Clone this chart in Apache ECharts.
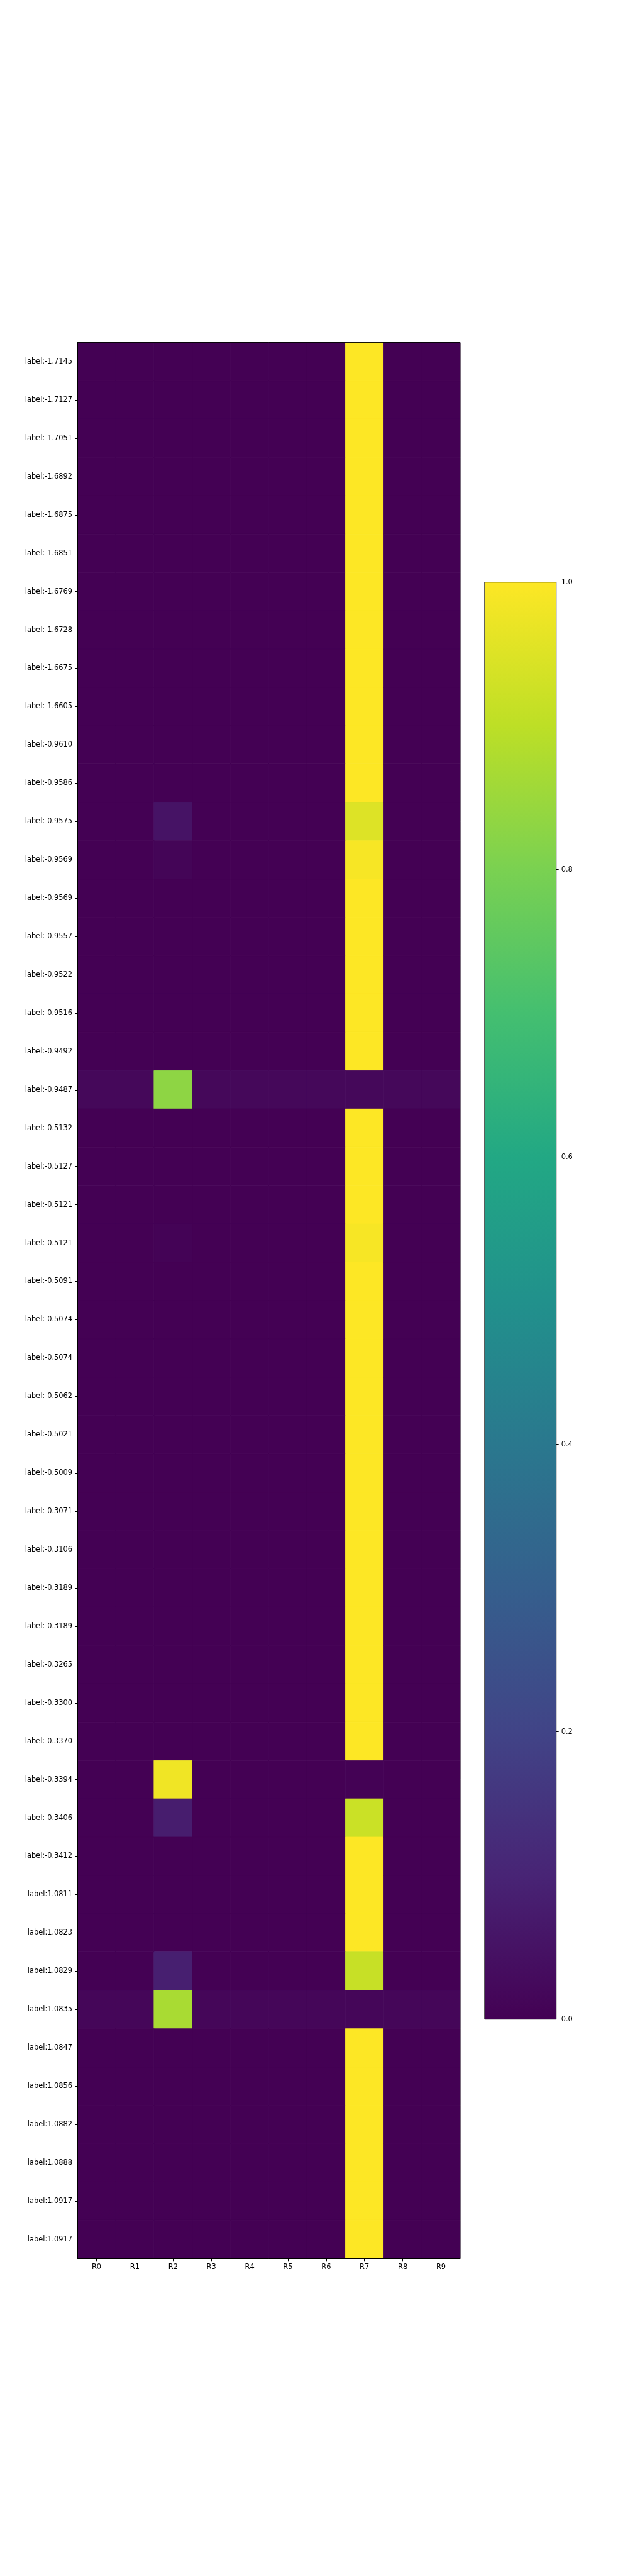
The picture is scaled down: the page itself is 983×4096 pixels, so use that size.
<!DOCTYPE html>
<html>
<head>
<meta charset="utf-8">
<script src="https://cdn.jsdelivr.net/npm/echarts@6/dist/echarts.min.js"></script>
<style>
html,body{margin:0;padding:0;background:#fff;}
#chart{width:983px;height:4096px;}
</style>
</head>
<body>
<div id="chart"></div>
<script>
const columns = ['R0','R1','R2','R3','R4','R5','R6','R7','R8','R9'];
const rowLabels = [
 'label:-1.7145','label:-1.7127','label:-1.7051','label:-1.6892','label:-1.6875',
 'label:-1.6851','label:-1.6769','label:-1.6728','label:-1.6675','label:-1.6605',
 'label:-0.9610','label:-0.9586','label:-0.9575','label:-0.9569','label:-0.9569',
 'label:-0.9557','label:-0.9522','label:-0.9516','label:-0.9492','label:-0.9487',
 'label:-0.5132','label:-0.5127','label:-0.5121','label:-0.5121','label:-0.5091',
 'label:-0.5074','label:-0.5074','label:-0.5062','label:-0.5021','label:-0.5009',
 'label:-0.3071','label:-0.3106','label:-0.3189','label:-0.3189','label:-0.3265',
 'label:-0.3300','label:-0.3370','label:-0.3394','label:-0.3406','label:-0.3412',
 'label:1.0811','label:1.0823','label:1.0829','label:1.0835','label:1.0847',
 'label:1.0856','label:1.0882','label:1.0888','label:1.0917','label:1.0917'
];
// one row per label, one value per column R0..R9
const values = [
 [0,0,0,0,0,0,0,1,0,0],
 [0,0,0,0,0,0,0,1,0,0],
 [0,0,0,0,0,0,0,1,0,0],
 [0,0,0,0,0,0,0,1,0,0],
 [0,0,0,0,0,0,0,1,0,0],
 [0,0,0,0,0,0,0,1,0,0],
 [0,0,0,0,0,0,0,1,0,0],
 [0,0,0,0,0,0,0,1,0,0],
 [0,0,0,0,0,0,0,1,0,0],
 [0,0,0,0,0,0,0,1,0,0],
 [0,0,0,0,0,0,0,1,0,0],
 [0,0,0,0,0,0,0,1,0,0],
 [0,0,0.05,0,0,0,0,0.95,0,0],
 [0,0,0.01,0,0,0,0,0.99,0,0],
 [0,0,0,0,0,0,0,1,0,0],
 [0,0,0,0,0,0,0,1,0,0],
 [0,0,0,0,0,0,0,1,0,0],
 [0,0,0,0,0,0,0,1,0,0],
 [0,0,0,0,0,0,0,1,0,0],
 [0.019,0.019,0.83,0.019,0.019,0.019,0.019,0.019,0.019,0.019],
 [0,0,0,0,0,0,0,1,0,0],
 [0,0,0,0,0,0,0,1,0,0],
 [0,0,0,0,0,0,0,1,0,0],
 [0,0,0.006,0,0,0,0,0.99,0,0],
 [0,0,0,0,0,0,0,1,0,0],
 [0,0,0,0,0,0,0,1,0,0],
 [0,0,0,0,0,0,0,1,0,0],
 [0,0,0,0,0,0,0,1,0,0],
 [0,0,0,0,0,0,0,1,0,0],
 [0,0,0,0,0,0,0,1,0,0],
 [0,0,0,0,0,0,0,1,0,0],
 [0,0,0,0,0,0,0,1,0,0],
 [0,0,0,0,0,0,0,1,0,0],
 [0,0,0,0,0,0,0,1,0,0],
 [0,0,0,0,0,0,0,1,0,0],
 [0,0,0,0,0,0,0,1,0,0],
 [0,0,0,0,0,0,0,1,0,0],
 [0,0,0.98,0,0,0,0,0.002,0,0],
 [0,0,0.08,0,0,0,0,0.92,0,0],
 [0,0,0,0,0,0,0,1,0,0],
 [0,0,0,0,0,0,0,1,0,0],
 [0,0,0,0,0,0,0,1,0,0],
 [0,0,0.085,0,0,0,0,0.915,0,0],
 [0.015,0.015,0.87,0.015,0.015,0.015,0.015,0.015,0.015,0.015],
 [0,0,0,0,0,0,0,1,0,0],
 [0,0,0,0,0,0,0,1,0,0],
 [0,0,0,0,0,0,0,1,0,0],
 [0,0,0,0,0,0,0,1,0,0],
 [0,0,0,0,0,0,0,1,0,0],
 [0,0,0,0,0,0,0,1,0,0]
];
const colorbarTicks = [0, 0.2, 0.4, 0.6, 0.8, 1.0];
const viridis = ['#440154','#482475','#414487','#355f8d','#2a788e','#21918c','#22a884','#44bf70','#7ad151','#bddf26','#fde725'];

const heatData = [];
values.forEach((row, r) => row.forEach((v, c) => heatData.push([c, r, v])));

const chart = echarts.init(document.getElementById('chart'), null, {renderer: 'canvas'});
const font = {fontFamily: 'DejaVu Sans', fontSize: 11.4, color: '#000'};
const stops = viridis.map((c, i) => ({offset: i / (viridis.length - 1), color: c}));

chart.setOption({
  animation: false,
  backgroundColor: '#fff',
  grid: [
    {left: 123.1, top: 544.6, width: 608.8, height: 3046.7, show: true, borderColor: '#000', borderWidth: 1, backgroundColor: 'transparent', z: 10},
    {left: 770.9, top: 925.7, width: 113.8, height: 2285, show: true, borderColor: '#000', borderWidth: 1, backgroundColor: 'transparent', z: 10}
  ],
  xAxis: [
    {type: 'category', gridIndex: 0, data: columns, position: 'bottom', z: 10,
     axisLine: {show: true, lineStyle: {color: '#000', width: 1}},
     axisTick: {show: true, alignWithLabel: true, length: 4, lineStyle: {color: '#000'}},
     axisLabel: Object.assign({margin: 8}, font), splitLine: {show: false}},
    {type: 'category', gridIndex: 1, data: ['cb'], show: false, boundaryGap: true}
  ],
  yAxis: [
    {type: 'category', gridIndex: 0, data: rowLabels, inverse: true, z: 10,
     axisLine: {show: true, lineStyle: {color: '#000', width: 1}},
     axisTick: {show: true, alignWithLabel: true, length: 4, lineStyle: {color: '#000'}},
     axisLabel: Object.assign({margin: 8}, font), splitLine: {show: false}},
    {type: 'value', gridIndex: 1, min: 0, max: 1, interval: 0.2, position: 'right', z: 10,
     axisLine: {show: true, lineStyle: {color: '#000'}},
     axisTick: {show: true, length: 4, lineStyle: {color: '#000'}},
     axisLabel: Object.assign({margin: 8, formatter: v => colorbarTicks.some(t => Math.abs(t - v) < 1e-9) ? v.toFixed(1) : ''}, font),
     splitLine: {show: false}}
  ],
  visualMap: {
    show: false, type: 'continuous', min: 0, max: 1, seriesIndex: 0, dimension: 2,
    inRange: {color: viridis}
  },
  series: [
    {type: 'custom', xAxisIndex: 0, yAxisIndex: 0, data: heatData, silent: true,
     encode: {x: 0, y: 1},
     renderItem: function (params, api) {
       const p = api.coord([api.value(0), api.value(1)]);
       const s = api.size([1, 1]);
       const col = api.visual('color');
       return {type: 'rect',
         shape: {x: p[0] - s[0] / 2, y: p[1] - s[1] / 2, width: s[0], height: s[1]},
         style: {fill: col, stroke: col, lineWidth: 0.8}};
     }},
    {type: 'bar', xAxisIndex: 1, yAxisIndex: 1, data: [1], barWidth: '100%', silent: true,
     itemStyle: {color: new echarts.graphic.LinearGradient(0, 1, 0, 0, stops)}}
  ]
});
</script>
</body>
</html>
